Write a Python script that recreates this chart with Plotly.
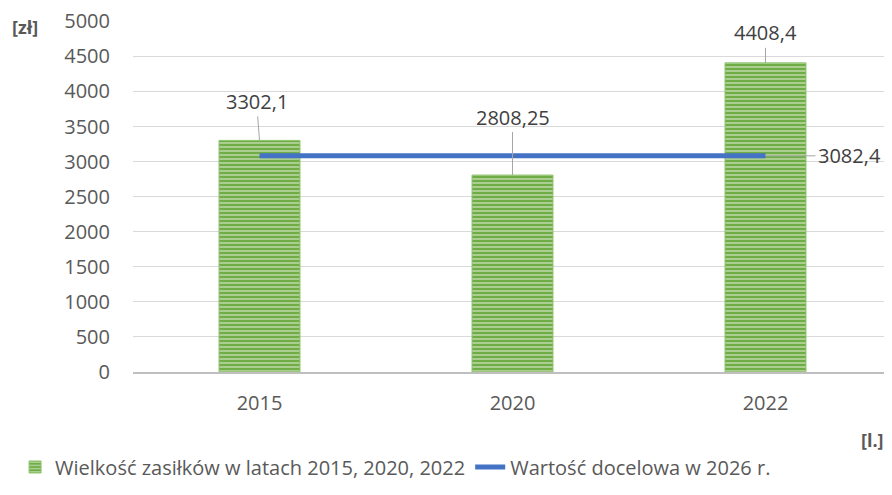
import plotly.graph_objects as go

lata = ["2015", "2020", "2022"]
zasilki = [3302.1, 2808.25, 4408.4]
cel_2026 = 3082.4

nazwa_slupki = "Wielkość zasiłków w latach 2015, 2020, 2022"
nazwa_linia = "Wartość docelowa w 2026 r."

FONT = "Open Sans, Liberation Sans, Arial, sans-serif"
SZARY = "#595959"
ROZMIAR = 20


def pl(v):
    return f"{v:g}".replace(".", ",")


fig = go.Figure()
fig.add_trace(go.Bar(
    x=lata, y=zasilki, name=nazwa_slupki,
    width=0.32,
    marker=dict(
        color="#70ad47",
        line=dict(color="#8cc36a", width=1),
        pattern=dict(shape="-", fgcolor="#e2f0d9", size=4, solidity=0.5),
    ),
))
fig.add_trace(go.Scatter(
    x=lata, y=[cel_2026] * len(lata), name=nazwa_linia,
    mode="lines", line=dict(color="#4472c4", width=5),
))

# etykiety danych z liniami odniesienia (x jako indeks kategorii)
przesuniecia = [(-3, -39), (0, -58), (0, -30)]
annotations = []
for i, (v, (ax, ay)) in enumerate(zip(zasilki, przesuniecia)):
    annotations.append(dict(
        x=i, y=v, text=pl(v), showarrow=True, arrowhead=0,
        arrowwidth=1, arrowcolor="#a6a6a6", ax=ax, ay=ay,
        font=dict(size=ROZMIAR, color="#404040"),
    ))
annotations.append(dict(
    x=len(lata) - 1, y=cel_2026, text=pl(cel_2026), showarrow=True,
    arrowhead=0, arrowwidth=1, arrowcolor="#a6a6a6", ax=50, ay=0,
    xanchor="left", font=dict(size=ROZMIAR, color="#404040"),
))
annotations.append(dict(
    text="<b>[zł]</b>", xref="paper", yref="paper", x=-0.142, y=0.983,
    xanchor="center", yanchor="middle", showarrow=False,
    font=dict(size=18, color=SZARY),
))
annotations.append(dict(
    text="<b>[l.]</b>", xref="paper", yref="paper", x=0.974, y=-0.194,
    xanchor="center", yanchor="middle", showarrow=False,
    font=dict(size=18, color=SZARY),
))

# strona ma 8 px marginesu, stąd 884x487
fig.update_layout(
    width=884, height=487,
    paper_bgcolor="white", plot_bgcolor="white",
    font=dict(family=FONT, size=ROZMIAR, color=SZARY),
    margin=dict(l=125, r=0, t=13, b=123),
    xaxis=dict(
        type="category", range=[-0.5, len(lata) - 0.5],
        showgrid=False, showline=True, linecolor="#bfbfbf", linewidth=2,
        ticks="", ticklabelstandoff=12,
        tickfont=dict(size=ROZMIAR, color=SZARY),
    ),
    yaxis=dict(
        range=[0, 5005], tickvals=list(range(0, 5001, 500)), tickformat="d",
        showgrid=True, gridcolor="#d9d9d9", gridwidth=1,
        zeroline=False, ticks="", ticklabelstandoff=22,
        ticklabeloverflow="allow",
        tickfont=dict(size=ROZMIAR, color=SZARY),
    ),
    legend=dict(
        orientation="h", xref="container", x=0.008, xanchor="left",
        yref="container", y=0.0575, yanchor="middle",
        font=dict(size=ROZMIAR, color=SZARY), itemwidth=30,
    ),
    annotations=annotations,
)

fig.write_html("out.html")
